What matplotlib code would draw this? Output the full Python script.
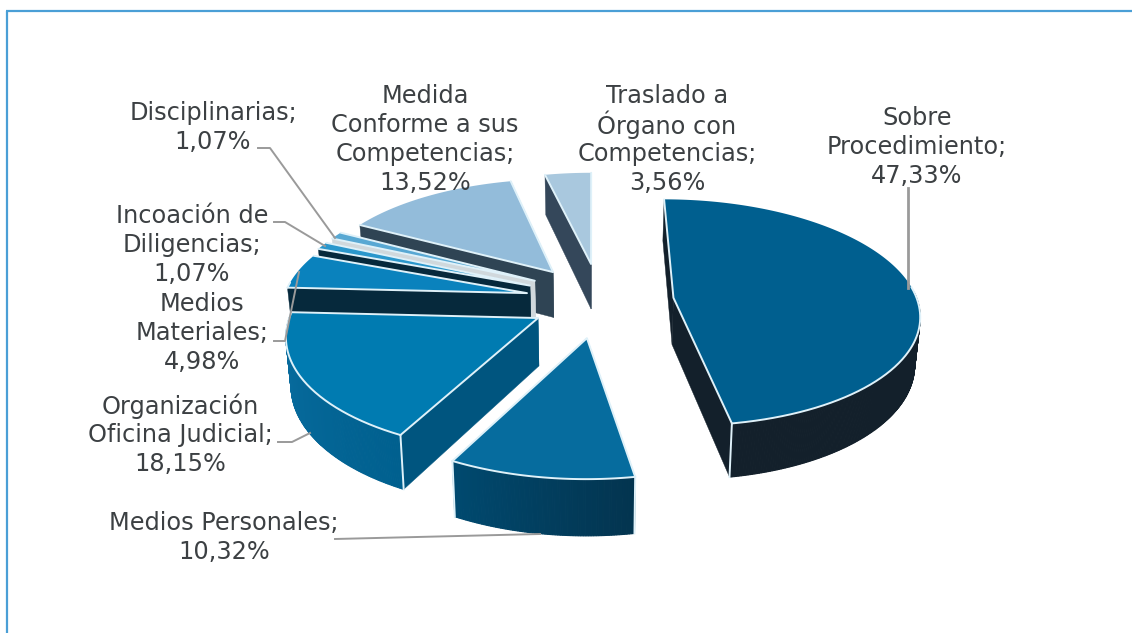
import numpy as np
import matplotlib
matplotlib.use("Agg")
import matplotlib.pyplot as plt
from matplotlib.colors import to_rgb
from matplotlib.patches import Polygon


# --- Data ---
values = [47.33, 10.32, 18.15, 4.98, 1.07, 1.07, 13.52, 3.56]
value_labels = ["47,33%", "10,32%", "18,15%", "4,98%", "1,07%", "1,07%", "13,52%", "3,56%"]
names = [
    "Sobre\nProcedimiento;",
    "Medios Personales;",
    "Organización\nOficina Judicial;",
    "Medios\nMateriales;",
    "Incoación de\nDiligencias;",
    "Disciplinarias;",
    "Medida\nConforme a sus\nCompetencias;",
    "Traslado a\nÓrgano con\nCompetencias;",
]

# --- Styling: one entry per slice ---
top_colors = ["#005f8f", "#066c9e", "#007bb1", "#0a82bd", "#2a97cc", "#58a8d3", "#93bcda", "#a9c8de"]
wall_left = ["#13202b", "#004a70", "#0a6fa2", "#06293c", "#06293c", "#d0d8dc", "#2f4454", "#34475a"]
wall_right = ["#13202b", "#03344f", "#00608f", "#06293c", "#06293c", "#d0d8dc", "#2f4454", "#34475a"]
cut_colors = ["#13202b", "#004a70", "#00557f", "#06293c", "#06293c", "#d0d8dc", "#2f4454", "#34475a"]
explode_x = [0.335, -0.02, -0.217, -0.269, -0.259, -0.24, -0.165, -0.004]
explode_y = [0.029, -0.318, -0.149, 0.071, 0.14, 0.185, 0.267, 0.345]
label_pos = [(917, 118), (224, 523), (180, 406), (202, 304), (192, 216), (213, 113), (425, 96), (667, 96)]
leaders = [
    [(908, 188), (908, 288)],
    [(335, 539), (540, 534)],
    [(278, 442), (292, 442), (310, 433)],
    [(274, 341), (285, 341), (299, 272)],
    [(274, 222), (285, 222), (325, 246)],
    [(258, 148), (270, 148), (335, 238)],
]
leader_widths = [2.0, 1.4, 1.4, 1.4, 1.4, 1.4]

# camera parameters of the tilted pie
CX, CY = 592, 301
RX, RY = 244, 112
PERSP = 0.13
DEPTH = 47
DEPTH_SHRINK = 0.983
EDGE = "#dff1f9"
TEXT = "#3c4043"
LEADER = "#9a9a9a"

W, H = 1132, 633


def project(x, y, bottom=False):
    s = 1 / (1 + PERSP * y)
    px = RX * x * s
    py = CY - RY * y * s
    if bottom:
        return CX + px * DEPTH_SHRINK, py + DEPTH * s
    return CX + px, py


def mix(c1, c2, t):
    return tuple((1 - t) * a + t * b for a, b in zip(to_rgb(c1), to_rgb(c2)))


def draw_slice(ax, a0, a1, ex, ey, top, wl, wr, cut, z):
    ang = np.radians(np.linspace(a0, a1, max(int(a1 - a0) * 2, 6)))
    xs = ex + np.sin(ang)
    ys = ey + np.cos(ang)

    ax_, ay_ = project(ex, ey)
    bx_, by_ = project(ex, ey, True)
    tx, ty = project(xs, ys)
    bx, by = project(xs, ys, True)

    # each wall piece: (mean depth, polygon, colour, edge width)
    walls = []
    for a in [ang[0], ang[-1]]:
        ox, oy = ex + np.sin(a), ey + np.cos(a)
        p1 = project(ox, oy)
        p2 = project(ox, oy, True)
        walls.append((ey + np.cos(a) / 2, [(ax_, ay_), p1, p2, (bx_, by_)], cut, 0.3))
    for i in range(len(ang) - 1):
        # the back of the curved wall is hidden behind the top face
        if np.cos(ang[i]) > 0.05 and np.cos(ang[i + 1]) > 0.05:
            continue
        t = i / (len(ang) - 1)
        poly = [(tx[i], ty[i]), (tx[i + 1], ty[i + 1]), (bx[i + 1], by[i + 1]), (bx[i], by[i])]
        walls.append((ys[i], poly, mix(wl, wr, t) if xs[i] < xs[i + 1] else mix(wr, wl, t), 0.8))

    walls.sort(key=lambda w: -w[0])
    for _, poly, col, lw in walls:
        ax.add_patch(Polygon(poly, closed=True, facecolor=col, edgecolor=col, lw=lw, zorder=z))

    # pale seams on the visible edges of the walls
    for a in [ang[0], ang[-1]]:
        ox, oy = ex + np.sin(a), ey + np.cos(a)
        p1 = project(ox, oy)
        p2 = project(ox, oy, True)
        if oy < ey:
            ax.plot([p1[0], p2[0]], [p1[1], p2[1]], color=EDGE, lw=1.4, zorder=z)

    top_pts = [(ax_, ay_)] + list(zip(tx, ty))
    ax.add_patch(Polygon(top_pts, closed=True, facecolor=top, edgecolor="none", zorder=z))

    # top face edges: both radii, and the arc only where it sits in front
    edge_kw = dict(color=EDGE, lw=1.4, zorder=z, solid_capstyle="round")
    ax.plot([tx[0], ax_, tx[-1]], [ty[0], ay_, ty[-1]], **edge_kw)
    front = np.cos(ang) < 0.1
    if front.sum() > 1:
        ax.plot(tx[front], ty[front], **edge_kw)


def main():
    fig = plt.figure(figsize=(W / 100, H / 100), dpi=100)
    ax = fig.add_axes([0, 0, 1, 1])
    ax.set_xlim(0, W)
    ax.set_ylim(H, 0)
    ax.axis("off")

    # slice angles clockwise from the top, first slice at 0
    total = sum(values)
    ends = np.cumsum(values) / total * 360
    starts = np.concatenate([[0], ends[:-1]])

    # back slices first, front slices last
    order = [7, 6, 5, 4, 3, 2, 1, 0]
    for z, i in enumerate(order):
        draw_slice(ax, starts[i], ends[i], explode_x[i], explode_y[i],
                   top_colors[i], wall_left[i], wall_right[i], cut_colors[i], 2 + z)

    for pts, lw in zip(leaders, leader_widths):
        ax.plot([p[0] for p in pts], [p[1] for p in pts], color=LEADER, lw=lw, zorder=15)

    for i in range(len(values)):
        lines = names[i].split("\n") + [value_labels[i]]
        x, y = label_pos[i]
        for k, line in enumerate(lines):
            ax.text(x, y + k * 29, line, ha="center", va="center", fontsize=17.3,
                    color=TEXT, family="DejaVu Sans", zorder=20)

    # chart frame, only left and top edges are inside the crop
    ax.plot([6.5, 6.5], [H, 11], color="#4a9fd6", lw=1.6, zorder=30, solid_capstyle="butt")
    ax.plot([6, W], [11, 11], color="#4a9fd6", lw=1.6, zorder=30, solid_capstyle="butt")

    fig.savefig("out.png", dpi=100, facecolor="white")


if __name__ == "__main__":
    main()
